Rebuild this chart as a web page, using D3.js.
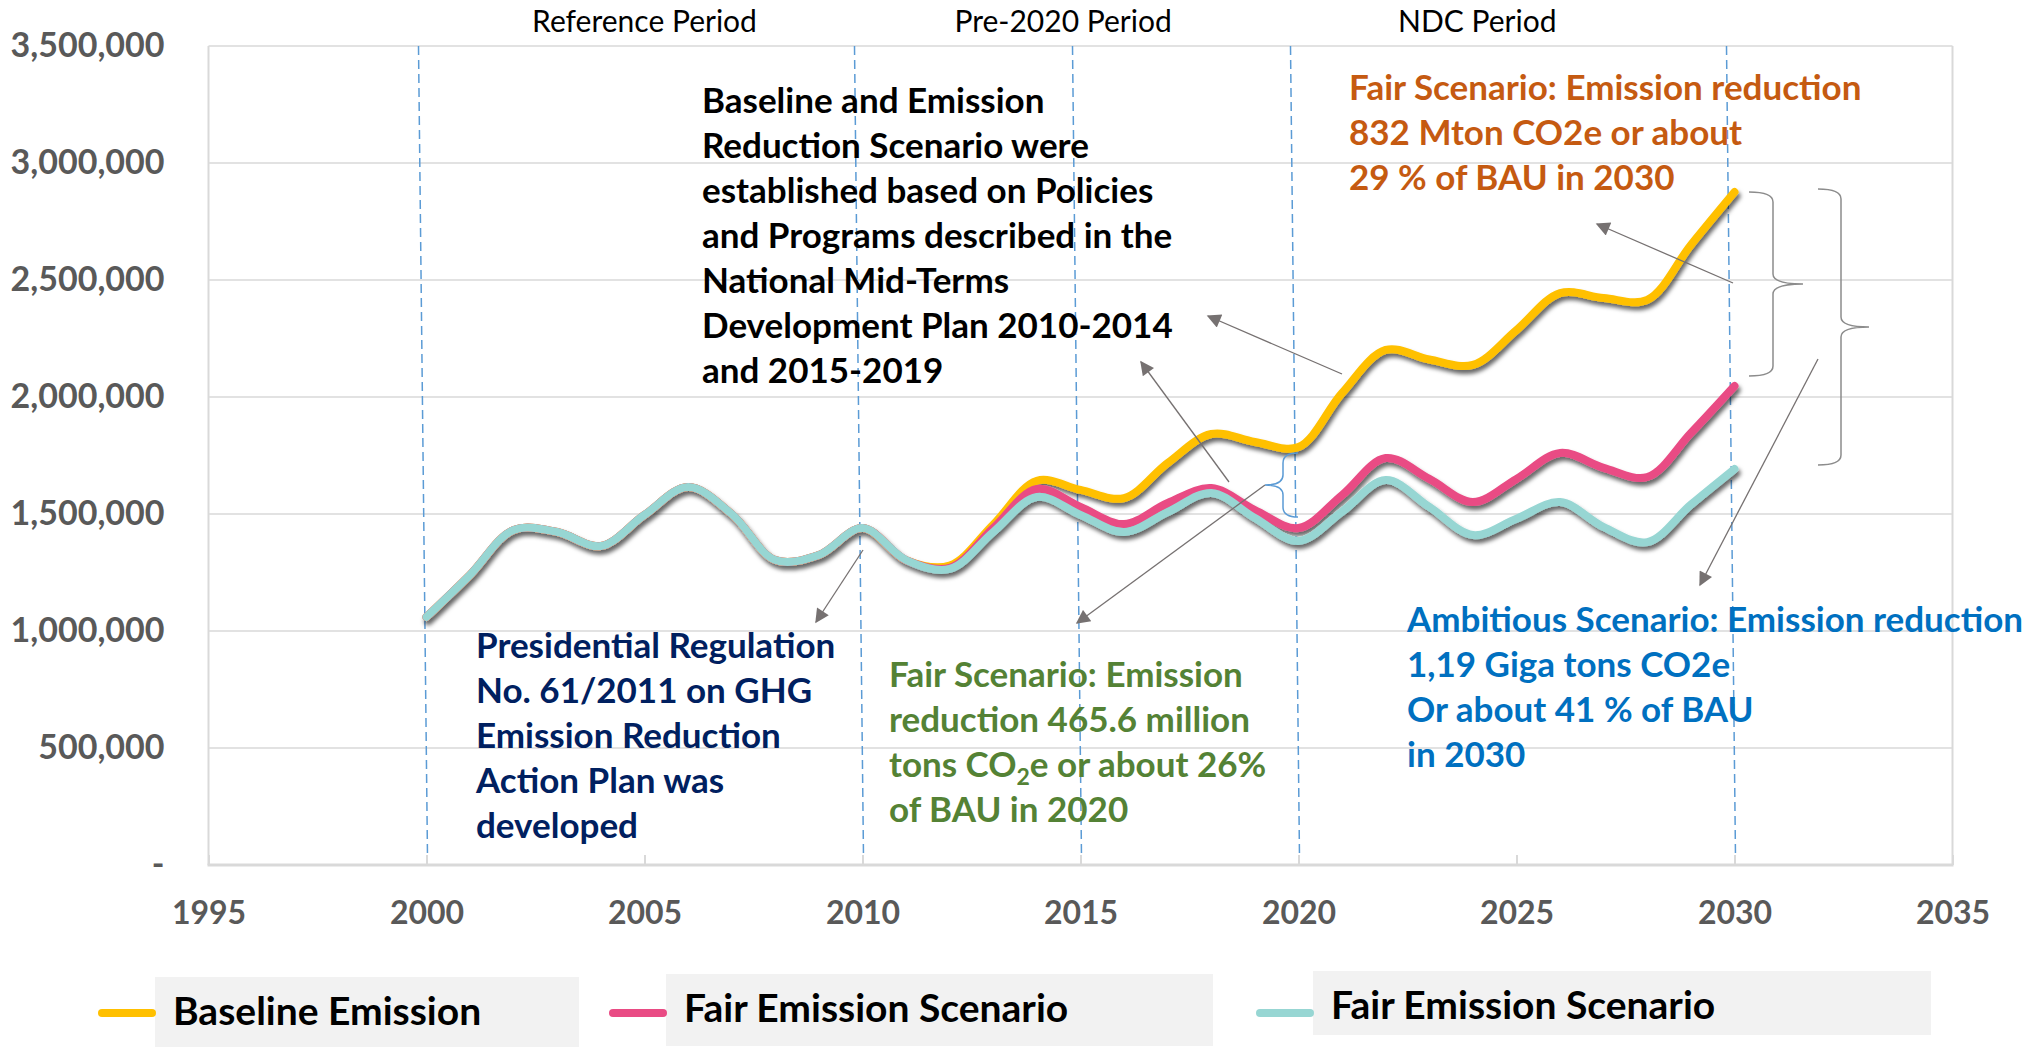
<!DOCTYPE html>
<html>
<head>
<meta charset="utf-8">
<script src="https://cdn.jsdelivr.net/npm/d3@7"></script>
<style>
body { margin: 0; background: #fff; }
text { font-family: Lato, "Open Sans", sans-serif; }
</style>
</head>
<body>
<div id="chart"></div>
<script>
// chart values (tons CO2e)
var years = [2000, 2001, 2002, 2003, 2004, 2005, 2006, 2007, 2008, 2009, 2010,
    2011, 2012, 2013, 2014, 2015, 2016, 2017, 2018, 2019, 2020,
    2021, 2022, 2023, 2024, 2025, 2026, 2027, 2028, 2029, 2030];
var baseline = [1060000, 1240000, 1432000, 1423000, 1363000, 1496000, 1615000, 1500000, 1303000, 1325000, 1440000,
    1303000, 1280000, 1455000, 1642000, 1603000, 1568000, 1718000, 1842000, 1808000, 1786000,
    2017000, 2201000, 2160000, 2137000, 2286000, 2444000, 2423000, 2415000, 2650000, 2876000];
var fair = [1060000, 1240000, 1432000, 1423000, 1363000, 1496000, 1615000, 1500000, 1303000, 1325000, 1440000,
    1303000, 1270000, 1440000, 1607000, 1530000, 1457000, 1547000, 1611000, 1517000, 1440000,
    1581000, 1739000, 1650000, 1551000, 1650000, 1761000, 1697000, 1658000, 1846000, 2047000];
var ambitious = [1060000, 1240000, 1432000, 1423000, 1363000, 1496000, 1615000, 1500000, 1303000, 1325000, 1440000,
    1303000, 1265000, 1423000, 1573000, 1496000, 1423000, 1508000, 1590000, 1483000, 1385000,
    1510000, 1645000, 1530000, 1410000, 1480000, 1551000, 1444000, 1380000, 1540000, 1692000];
var seriesNames = ["Baseline Emission", "Fair Emission Scenario", "Fair Emission Scenario"];
var seriesColors = ["#ffc000", "#e94b84", "#97d6d3"];
var yTicks = [0, 500000, 1000000, 1500000, 2000000, 2500000, 3000000, 3500000];
var xTicks = [1995, 2000, 2005, 2010, 2015, 2020, 2025, 2030, 2035];
var periodNames = ["Reference Period", "Pre-2020 Period", "NDC Period"];
var periodCenters = [2005, 2014.6, 2024.1];
var periodBreaks = [2000, 2010, 2015, 2020, 2030];

var width = 2037, height = 1048;
var margin = {top: 46, right: 84.5, bottom: 183, left: 208.5};
var font = "Lato, 'Open Sans', sans-serif";

var svg = d3.select("#chart").append("svg")
    .attr("width", width)
    .attr("height", height);

var x = d3.scaleLinear().domain([1995, 2035]).range([margin.left, width - margin.right]);
var y = d3.scaleLinear().domain([0, 3500000]).range([height - margin.bottom, margin.top]);

var defs = svg.append("defs");
defs.append("filter").attr("id", "shadow")
    .attr("x", "-5%").attr("y", "-10%").attr("width", "110%").attr("height", "130%")
    .append("feDropShadow")
    .attr("dx", 2).attr("dy", 4).attr("stdDeviation", 2)
    .attr("flood-color", "#000").attr("flood-opacity", 0.6);
defs.append("marker").attr("id", "arrow")
    .attr("viewBox", "0 0 10 10").attr("refX", 9).attr("refY", 5)
    .attr("markerUnits", "userSpaceOnUse")
    .attr("markerWidth", 16).attr("markerHeight", 14)
    .attr("orient", "auto")
    .append("path").attr("d", "M0,0 L10,5 L0,10 z").attr("fill", "#767171");

// gridlines
svg.append("g").selectAll("line").data(yTicks.slice(1)).enter().append("line")
    .attr("x1", x(1995)).attr("x2", x(2035))
    .attr("y1", d => y(d)).attr("y2", d => y(d))
    .attr("stroke", "#d9d9d9").attr("stroke-width", 1.5);

// plot border (left, right) and x baseline
svg.append("line").attr("x1", x(1995)).attr("x2", x(1995)).attr("y1", y(3500000)).attr("y2", y(0))
    .attr("stroke", "#d9d9d9").attr("stroke-width", 2);
svg.append("line").attr("x1", x(2035)).attr("x2", x(2035)).attr("y1", y(3500000)).attr("y2", y(0))
    .attr("stroke", "#d9d9d9").attr("stroke-width", 2);

// y axis
var yAxis = d3.axisLeft(y).tickValues(yTicks)
    .tickFormat(d => d === 0 ? "-" : d3.format(",")(d))
    .tickSize(0).tickPadding(44);
var gy = svg.append("g").attr("transform", "translate(" + margin.left + ",0)").call(yAxis);
gy.select(".domain").remove();
gy.selectAll("text").attr("font-size", 34).attr("font-weight", "bold").attr("fill", "#595959")
    .style("font-family", font);

// x axis
var xAxis = d3.axisBottom(x).tickValues(xTicks).tickFormat(d3.format("d"))
    .tickSize(-10).tickPadding(36);
var gx = svg.append("g").attr("transform", "translate(0," + y(0) + ")").call(xAxis);
gx.select(".domain").remove();
gx.selectAll("line").attr("stroke", "#d9d9d9").attr("stroke-width", 2);
gx.selectAll("text").attr("font-size", 32).attr("font-weight", "bold").attr("fill", "#595959")
    .style("font-family", font);
svg.append("line").attr("x1", x(1995) - 1).attr("x2", x(2035) + 1).attr("y1", y(0)).attr("y2", y(0))
    .attr("stroke", "#d9d9d9").attr("stroke-width", 3);

// period separators and titles
svg.append("g").selectAll("line").data(periodBreaks).enter().append("line")
    .attr("x1", d => x(d) - 8).attr("x2", d => x(d) + 1)
    .attr("y1", y(3500000)).attr("y2", y(0) - 8)
    .attr("stroke", "#5b9bd5").attr("stroke-width", 1.5).attr("stroke-dasharray", "9,5");
svg.append("g").selectAll("text").data(periodNames).enter().append("text")
    .attr("x", (d, i) => x(periodCenters[i])).attr("y", 32)
    .attr("text-anchor", "middle").attr("font-size", 30).attr("fill", "#000")
    .text(d => d);

// series lines
var line = d3.line().x((d, i) => x(years[i])).y(d => y(d)).curve(d3.curveCatmullRom.alpha(0.5));
var series = [baseline, fair, ambitious];
svg.append("g").attr("filter", "url(#shadow)").selectAll("path").data(series).enter().append("path")
    .attr("d", line)
    .attr("fill", "none")
    .attr("stroke", (d, i) => seriesColors[i])
    .attr("stroke-width", 8)
    .attr("stroke-linecap", "round")
    .attr("stroke-linejoin", "round");

// braces
function brace(bx, y0, y1, s, w) {
    var ym = (y0 + y1) / 2, r = 10;
    return "M" + bx + "," + y0 +
        " Q" + (bx + s) + "," + y0 + " " + (bx + s) + "," + (y0 + r) +
        " L" + (bx + s) + "," + (ym - r) +
        " Q" + (bx + s) + "," + ym + " " + (bx + w) + "," + ym +
        " Q" + (bx + s) + "," + ym + " " + (bx + s) + "," + (ym + r) +
        " L" + (bx + s) + "," + (y1 - r) +
        " Q" + (bx + s) + "," + y1 + " " + bx + "," + y1;
}
var last = years.length - 1, i2020 = years.indexOf(2020);
svg.append("path").attr("d", brace(1749, y(baseline[last]), y(fair[last]) - 10, 24, 54))
    .attr("fill", "none").attr("stroke", "#8c8c8c").attr("stroke-width", 1.5);
svg.append("path").attr("d", brace(1818, y(baseline[last]) - 3, y(ambitious[last]) - 4, 23, 51))
    .attr("fill", "none").attr("stroke", "#8c8c8c").attr("stroke-width", 1.5);
svg.append("path").attr("d", brace(1298, y(baseline[i2020]) + 6, y(fair[i2020]) - 11, -15, -33))
    .attr("fill", "none").attr("stroke", "#5b9bd5").attr("stroke-width", 1.5);

// arrows
var arrows = [[1342, 374, 1208, 316], [1229, 482, 1141, 362], [863, 550, 816, 622],
    [1265, 485, 1077, 623], [1733, 283, 1597, 224], [1818, 359, 1700, 585]];
svg.append("g").selectAll("line").data(arrows).enter().append("line")
    .attr("x1", d => d[0]).attr("y1", d => d[1]).attr("x2", d => d[2]).attr("y2", d => d[3])
    .attr("stroke", "#767171").attr("stroke-width", 1.3)
    .attr("marker-end", "url(#arrow)");

// annotation blocks
var notes = [
    {x: 702, y: 113, color: "#000000", lines: ["Baseline and Emission", "Reduction Scenario were",
        "established based on Policies", "and Programs described in the", "National Mid-Terms",
        "Development Plan 2010-2014", "and 2015-2019"]},
    {x: 1349, y: 100, color: "#c55a11", lines: ["Fair Scenario: Emission reduction",
        "832 Mton CO2e or about", "29 % of BAU in 2030"]},
    {x: 476, y: 658, color: "#002060", lines: ["Presidential Regulation", "No. 61/2011 on GHG",
        "Emission Reduction", "Action Plan was", "developed"]},
    {x: 889, y: 687, color: "#548235", lines: ["Fair Scenario: Emission", "reduction 465.6 million",
        "tons CO|2|e or about 26%", "of BAU in 2020"]},
    {x: 1407, y: 632, color: "#0070c0", lines: ["Ambitious Scenario: Emission reduction",
        "1,19 Giga tons CO2e", "Or about 41 % of BAU", "in 2030"]}
];
notes.forEach(function(n) {
    var t = svg.append("text").attr("font-size", 35).attr("font-weight", "bold").attr("fill", n.color);
    n.lines.forEach(function(l, i) {
        var row = t.append("tspan").attr("x", n.x).attr("y", n.y + i * 45);
        var parts = l.split("|");
        if (parts.length === 3) {
            row.append("tspan").text(parts[0]);
            row.append("tspan").attr("font-size", 23).attr("dy", 8).text(parts[1]);
            row.append("tspan").attr("dy", -8).text(parts[2]);
        } else {
            row.text(l);
        }
    });
});

// legend
var legendX = [102, 613, 1260];
var legendBoxW = [424, 547, 618];
var legendBoxY = [977, 974, 971];
var legendBoxH = [70, 72, 64];
var legend = svg.append("g").selectAll("g").data(seriesNames).enter().append("g");
legend.append("rect")
    .attr("x", (d, i) => legendX[i] + 53).attr("y", (d, i) => legendBoxY[i])
    .attr("width", (d, i) => legendBoxW[i]).attr("height", (d, i) => legendBoxH[i])
    .attr("fill", "#f2f2f2");
legend.append("line")
    .attr("x1", (d, i) => legendX[i]).attr("x2", (d, i) => legendX[i] + 50)
    .attr("y1", 1013).attr("y2", 1013)
    .attr("stroke", (d, i) => seriesColors[i]).attr("stroke-width", 8).attr("stroke-linecap", "round");
legend.append("text")
    .attr("x", (d, i) => legendX[i] + 71).attr("y", (d, i) => legendBoxY[i] + 48)
    .attr("font-size", 39).attr("font-weight", "bold").attr("fill", "#000")
    .text(d => d);
</script>
</body>
</html>
